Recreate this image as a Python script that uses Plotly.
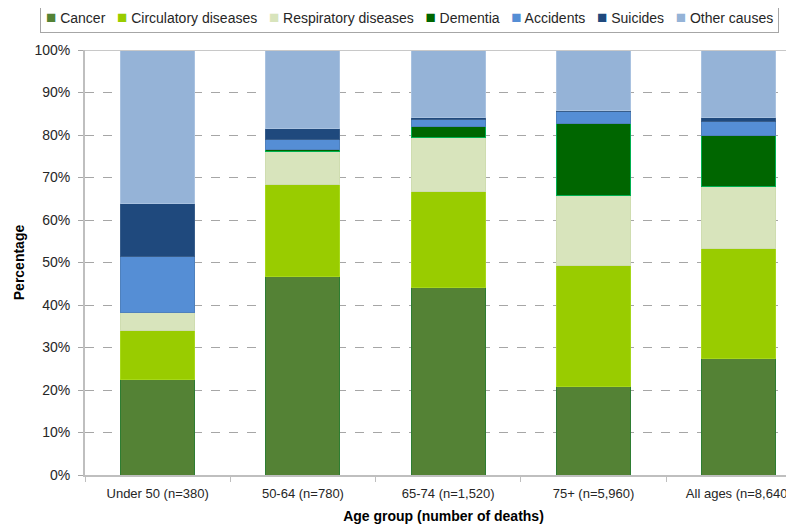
import plotly.graph_objects as go

## Causes of death by age group (stacked 100%)

categories = ["Under 50 (n=380)", "50-64 (n=780)", "65-74 (n=1,520)",
              "75+ (n=5,960)", "All ages (n=8,640)"]

cancer = [22.4, 46.6, 44.1, 20.9, 27.5]
circulatory = [11.6, 21.8, 22.5, 28.5, 25.9]
respiratory = [4.2, 7.8, 12.8, 16.3, 14.5]
dementia = [0.0, 0.3, 2.5, 17.1, 12.1]
accidents = [13.2, 2.5, 1.7, 2.7, 3.2]
suicides = [12.5, 2.6, 0.6, 0.3, 1.0]
other = [36.1, 18.4, 15.8, 14.2, 15.8]

y_ticks = [0, 10, 20, 30, 40, 50, 60, 70, 80, 90, 100]

series = [
    ("Cancer", cancer, "#548235", "#2E7D32"),
    ("Circulatory diseases", circulatory, "#99CC00", "#A6D81A"),
    ("Respiratory diseases", respiratory, "#D8E4BC", "#CFDDB0"),
    ("Dementia", dementia, "#006600", "#00B050"),
    ("Accidents", accidents, "#558ED5", "#4F81BD"),
    ("Suicides", suicides, "#1F497D", "#385D8A"),
    ("Other causes", other, "#95B3D7", "#A9C2E0"),
]

fig = go.Figure()
for name, vals, color, edge in series:
    fig.add_trace(go.Bar(
        x=categories,
        y=vals,
        name=name,
        marker=dict(color=color, line=dict(color=edge, width=1)),
        hovertemplate=name + ': %{y:.1f}%<extra></extra>',
    ))

# legend drawn as one boxed line of text
legend_text = "&nbsp;&nbsp;&nbsp;".join(
    "<span style='color:%s;font-size:17px'>■</span> %s" % (color, name)
    for name, vals, color, edge in series
)

font_name = "Liberation Sans, Arial"

# the page body adds an 8px offset, margins take it into account
plot_w = 717
plot_h = 425

fig.update_layout(
    barmode='stack',
    bargap=0.49,
    width=794,
    height=525,
    margin=dict(l=77, r=0, t=42, b=58),
    paper_bgcolor='white',
    plot_bgcolor='white',
    showlegend=False,
    font=dict(family=font_name, size=14, color='#262626'),
    annotations=[dict(
        text=legend_text,
        xref='paper', yref='paper',
        x=(409 - 85) / plot_w, y=1 + (50 - 17) / plot_h,
        xanchor='center', yanchor='middle',
        showarrow=False,
        font=dict(family=font_name, size=14, color='#262626'),
        bordercolor='#A6A6A6', borderwidth=1, borderpad=5,
        bgcolor='white',
    )],
    shapes=[dict(
        type='line', xref='paper', yref='y',
        x0=0, x1=1, y0=100, y1=100,
        line=dict(color='#C8C8C8', width=2),
    )],
)

fig.update_xaxes(
    title=dict(text='<b>Age group (number of deaths)</b>', standoff=12,
               font=dict(size=14, color='black')),
    automargin=False,
    range=[-0.5, 4.435],
    showline=True,
    linecolor='#BFBFBF',
    linewidth=2,
    ticks='outside',
    tickson='boundaries',
    ticklen=5,
    tickcolor='#BFBFBF',
    ticklabelstandoff=5,
    showgrid=False,
    tickfont=dict(size=13, color='#262626'),
)

fig.update_yaxes(
    title=dict(text='<b>Percentage</b>', standoff=6,
               font=dict(size=14, color='black')),
    automargin=False,
    range=[0, 100],
    tickvals=y_ticks,
    ticktext=[str(v) + '%' for v in y_ticks],
    showline=True,
    linecolor='#BFBFBF',
    linewidth=2,
    ticks='outside',
    ticklen=5,
    tickcolor='#A6A6A6',
    ticklabelstandoff=5,
    showgrid=True,
    gridcolor='#A6A6A6',
    gridwidth=1,
    griddash='dash',
    zeroline=False,
    tickfont=dict(size=14, color='#262626'),
)

fig.write_html("out.html")
